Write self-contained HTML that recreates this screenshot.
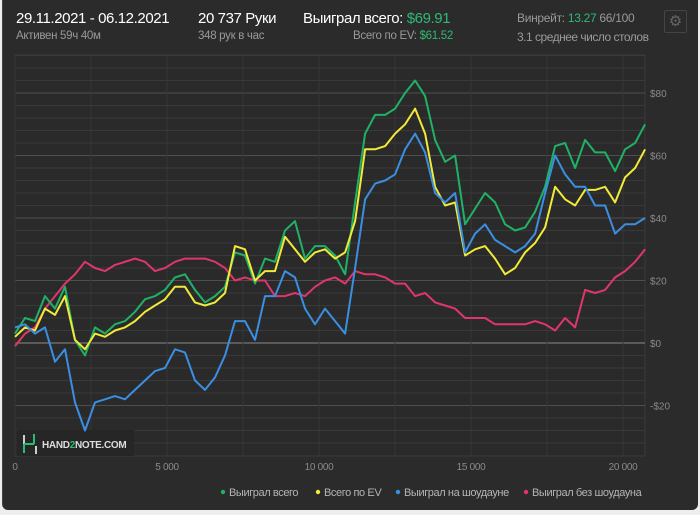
<!DOCTYPE html>
<html><head><meta charset="utf-8"><style>
body{margin:0;width:700px;height:515px;background:#eeeeee;font-family:"Liberation Sans",sans-serif;overflow:hidden}
#panel{position:absolute;left:2px;top:0;width:695px;height:510px;background:#2b2b2b;border-radius:0 0 6px 6px;border-left:1px solid #444}
.t{position:absolute;white-space:nowrap}
.big{font-size:15px;color:#fff;letter-spacing:-0.4px}
.sm{font-size:11.5px;color:#9a9a9a;letter-spacing:-0.3px}
.g{color:#2dbb73}
</style></head><body>
<div id="panel">
<div class="t big" style="left:13px;top:10px">29.11.2021 - 06.12.2021</div>
<div class="t sm" style="left:13px;top:30px">Активен 59ч 40м</div>
<div class="t big" style="left:195px;top:10px">20 737 Руки</div>
<div class="t sm" style="left:195px;top:30px">348 рук в час</div>
<div class="t big" style="left:300px;top:10px">Выиграл всего: <span class="g">$69.91</span></div>
<div class="t sm" style="left:350px;top:30px">Всего по EV: <span class="g">$61.52</span></div>
<div class="t sm" style="left:514px;top:11px;font-size:12px">Винрейт: <span class="g">13.27</span> 66/100</div>
<div class="t sm" style="left:514px;top:30px;font-size:12px;letter-spacing:-0.5px">3.1 среднее число столов</div>
<div class="t" style="left:661px;top:10px;width:21px;height:21px;border:1px solid #444;border-radius:2px;color:#666;font-size:15px;text-align:center;line-height:21px">⚙</div>
</div>
<svg id="chart" width="700" height="515" style="position:absolute;left:0;top:0"></svg>
<script>
const hands=[0,329,658,987,1316,1645,1974,2303,2632,2961,3290,3619,3948,4277,4606,4935,5264,5593,5922,6251,6580,6909,7238,7567,7896,8225,8554,8883,9212,9541,9870,10199,10528,10857,11186,11515,11844,12173,12502,12831,13160,13489,13818,14147,14476,14805,15134,15463,15792,16121,16450,16779,17108,17437,17766,18095,18424,18753,19082,19411,19740,20069,20398,20727];
const wonTotal=[3,8,7,15,11,18,1,-4,5,3,6,7,10,14,15,17,21,22,17,13,15,18,29,28,19,27,26,36,39,27,31,31,28,22,45,67,73,73,75,80,84,79,65,58,60,38,43,48,45,38,36,37,42,50,63,64,56,65,61,61,55,62,64,70];
const wonEV=[2,5,4,11,9,15,1,-2,3,2,4,5,7,10,12,14,18,18,13,12,13,16,31,30,20,23,23,34,30,26,29,30,27,29,39,62,62,63,67,70,75,67,50,44,45,28,30,31,27,22,24,29,32,37,50,46,44,49,49,50,45,53,56,62];
const wonSD=[5,6,3,5,-6,-2,-19,-28,-19,-18,-17,-18,-15,-12,-9,-8,-2,-3,-12,-15,-11,-4,7,7,1,15,15,23,21,11,6,11,7,3,24,46,51,52,54,62,67,61,48,45,48,29,35,38,33,31,29,31,35,48,60,54,50,50,44,44,35,38,38,40];
const wonNoSD=[-1,3,5,11,15,19,22,26,24,23,25,26,27,26,23,24,26,27,27,27,26,24,20,21,20,20,15,15,16,15,18,20,21,19,23,22,22,21,19,19,15,16,13,12,11,8,8,8,6,6,6,6,7,6,4,8,5,17,16,17,21,23,26,30];
const xTicks=[0,5000,10000,15000,20000];
const xTickLabels=["0","5 000","10 000","15 000","20 000"];
const yTicks=[-20,0,20,40,60,80];
const yTickLabels=["-$20","$0","$20","$40","$60","$80"];
const NS='http://www.w3.org/2000/svg';
const svg=document.getElementById('chart');
const L=15,R=645,T=55,B=456;
const xs=h=>L+h*0.0304;
const ys=v=>343-v*3.125;
function mk(tag,attrs,parent){const e=document.createElementNS(NS,tag);for(const k in attrs)e.setAttribute(k,attrs[k]);(parent||svg).appendChild(e);return e;}
const bg=mk('rect',{x:L,y:T,width:R-L,height:B-T,fill:'#2a2a2a',stroke:'#3a3a3a'});


for(let v=-32;v<=96;v+=4){const y=ys(v);if(y<T||y>B)continue;const ln=mk('line',{x1:L,x2:R,y1:y,y2:y,stroke:v%20===0?(v===0?'#8a8a8a':'#4e4e4e'):'#393939','stroke-width':1});

}
for(let h=0;h<=20000;h+=2500){const x=xs(h);const ln=mk('line',{x1:x,x2:x,y1:T,y2:B,stroke:'#363636'});

}
yTicks.forEach((v,i)=>{const t=mk('text',{x:650,y:ys(v)+4,fill:'#8a8a8a','font-size':10,'font-family':'Liberation Sans'});t.textContent=yTickLabels[i];

});
xTicks.forEach((h,i)=>{const t=mk('text',{x:xs(h),y:470,fill:'#8a8a8a','font-size':10,'text-anchor':'middle','letter-spacing':-0.3,'font-family':'Liberation Sans'});t.textContent=xTickLabels[i];

});
const lg=mk('g',{});


mk('rect',{x:17,y:430,width:117,height:26,fill:'#262626'},lg);
mk('path',{d:'M24 435v18',stroke:'#ccc','stroke-width':2,fill:'none'},lg);
mk('path',{d:'M24 444h10M34 444v-10M24 453v-9',stroke:'#2dbb73','stroke-width':2,fill:'none'},lg);
mk('path',{d:'M36 446v8',stroke:'#ccc','stroke-width':2},lg);
const lt=mk('text',{x:42,y:448,fill:'#ddd','font-size':10,'font-weight':'bold','letter-spacing':-0.3,'font-family':'Liberation Sans'},lg);lt.innerHTML='HAND<tspan fill="#2dbb73">2</tspan>NOTE.COM';
const series=[['series-won-no-showdown',wonNoSD,'#e0366a'],['series-won-showdown',wonSD,'#3a8fe3'],['series-won-total',wonTotal,'#1fb266'],['series-won-ev',wonEV,'#f2ea38']];
const order=[series[0],series[2],series[3],series[1]];
order.forEach(s=>{const d=s[1].map((v,i)=>(i?'L':'M')+xs(hands[i]).toFixed(1)+' '+ys(v).toFixed(1)).join('');
const p=mk('path',{d:d,fill:'none',stroke:s[2],'stroke-width':2,'stroke-linejoin':'round'});

});
const leg=[['Выиграл всего','#1fb266',223],['Всего по EV','#f2ea38',318],['Выиграл на шоудауне','#3a8fe3',398],['Выиграл без шоудауна','#e0366a',526]];
leg.forEach(l=>{const g=mk('g',{});


mk('circle',{cx:l[2],cy:492,r:2.2,fill:l[1]},g);const t=mk('text',{x:l[2]+6,y:496,fill:'#b5b5b5','font-size':11,'letter-spacing':-0.4,'font-family':'Liberation Sans'},g);t.textContent=l[0];});
</script>
</body></html>
